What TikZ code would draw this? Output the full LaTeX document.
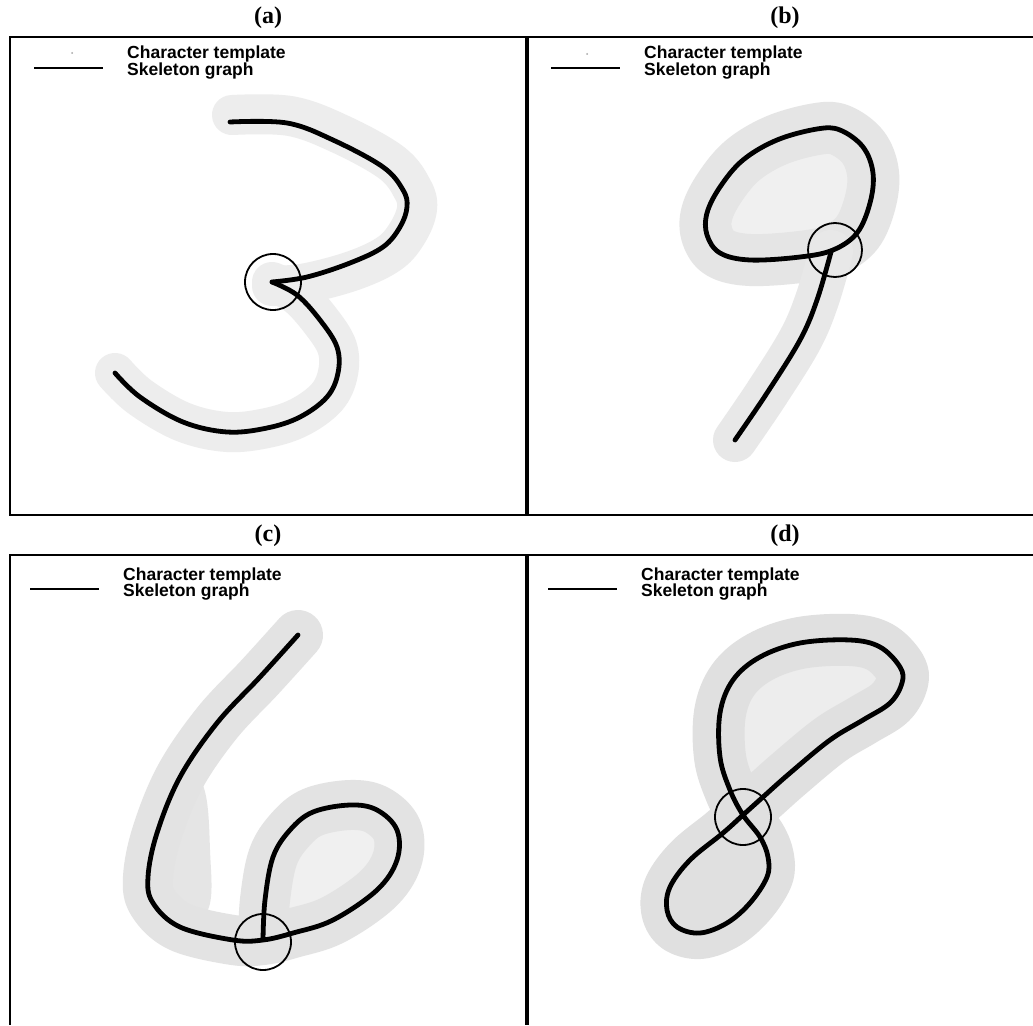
\documentclass[tikz,border=0pt]{standalone}
\usepackage{fontspec}
\setmainfont{Liberation Serif}
\newfontfamily\legfont{Liberation Sans}
\begin{document}
\begin{tikzpicture}[x=1pt,y=-1pt,
  frame/.style={line width=2pt},
  divider/.style={line width=4pt},
  skel/.style={line width=4.8pt, line join=round, line cap=round},
  tmpl/.style={line width=#1, line join=round, line cap=round},
  ring/.style={line width=1.8pt},
  title/.style={font=\bfseries\fontsize{24}{24}\selectfont, inner sep=0pt},
  legtext/.style={font=\legfont\bfseries\fontsize{17.5}{17.5}\selectfont, anchor=base west, inner sep=0pt},
  legline/.style={line width=1.6pt},
  legdot/.style={fill=black!35, draw=none}]
\useasboundingbox (0,0) rectangle (1033,1025);
\fill[white] (0,0) rectangle (1033,1025);

% frames
\draw[frame] (1033,37) -- (10,37) -- (10,515) -- (1033,515);
\draw[divider] (527,37) -- (527,515);
\draw[frame] (1033,555) -- (10,555) -- (10,1025);
\draw[divider] (527,555) -- (527,1025);

% titles
\node[title] (ta) at (268,18) {(a)};
\node[title] (tb) at (785,18) {(b)};
\node[title] (tc) at (268,536) {(c)};
\node[title] (td) at (785,536) {(d)};

% legends
\foreach \nm/\ox/\oy in {a/0/0, b/517/0, c/-4/521, d/514/521}{
  \node[legtext] (ct\nm) at (127+\ox,59+\oy) {Character template};
  \node[legtext] (sg\nm) at (127+\ox,75+\oy) {Skeleton graph};
  \coordinate (ls\nm) at (34+\ox,68+\oy);
  \coordinate (le\nm) at (103+\ox,68+\oy);
  \draw[legline] (ls\nm) -- (le\nm);
}
\fill[legdot] (72,53) circle (1);
\fill[legdot] (587,54) circle (1);

% ===== (a) digit 3 =====
\def\aup{(230,122) (287,123) (333,140) (383,167) (403,190) (407,207) (400,227) (383,247) (350,263) (307,277) (272,282)}
\def\alo{(272,282) (297,295) (320,320) (337,347) (338,373) (327,397) (300,417) (267,428) (227,432) (183,422) (140,397) (115,373)}
\draw[tmpl=40pt, black!7] plot[smooth, tension=0.6] coordinates {(232,115) (290,116) (340,134) (392,163) (413,190) (417,209) (408,232) (390,253) (355,270) (307,283) (272,286)};
\draw[tmpl=40pt, black!7] plot[smooth, tension=0.6] coordinates \alo;
\draw[skel] plot[smooth, tension=0.6] coordinates \aup;
\draw[skel] plot[smooth, tension=0.6] coordinates \alo;
\draw[ring] (273,282) circle (28);

% ===== (b) digit 9 =====
\def\bloop{(833,250) (800,257) (750,260) (720,253) (707,235) (707,213) (720,187) (743,160) (777,140) (817,129) (840,130) (863,147) (873,173) (870,203) (857,233)}
\def\btail{(831,252) (817,300) (800,340) (767,393) (735,440)}
\fill[black!6] plot[smooth cycle, tension=0.6] coordinates \bloop;
\draw[tmpl=52pt, black!10] plot[smooth cycle, tension=0.6] coordinates \bloop;
\draw[tmpl=44pt, black!9] plot[smooth, tension=0.6] coordinates \btail;
\draw[skel] plot[smooth cycle, tension=0.6] coordinates \bloop;
\draw[skel] plot[smooth, tension=0.6] coordinates \btail;
\draw[ring] (835,250) circle (27);

% ===== (c) digit 6 =====
\def\cstroke{(298,635) (260,677) (217,723) (180,777) (157,833) (148,877) (153,903) (180,927) (233,940) (263,940) (293,933) (333,920) (377,890) (397,860) (397,830) (377,810) (350,805) (313,812) (290,830) (273,857) (265,900) (263,940)}
\fill[black!6] plot[smooth cycle, tension=0.6] coordinates {(263,940) (293,933) (333,920) (377,890) (397,860) (397,830) (377,810) (350,805) (313,812) (290,830) (273,857) (265,900)};
\fill[black!10] plot[smooth cycle, tension=0.7] coordinates {(165,790) (200,780) (210,850) (205,915) (160,915) (150,860)};
\draw[tmpl=50pt, black!11] plot[smooth, tension=0.6] coordinates \cstroke;
\draw[skel] plot[smooth, tension=0.6] coordinates \cstroke;
\draw[ring] (263,942) circle (28);

% ===== (d) digit 8 =====
\def\dpath{(743,815) (730,790) (720,757) (720,713) (733,680) (760,657) (800,643) (850,640) (880,647) (900,667) (902,683) (890,703) (863,720) (830,740) (790,773) (763,797) (743,815) (723,833) (690,860) (670,887) (667,910) (677,927) (700,933) (727,923) (750,903) (767,877) (768,857) (760,837)}
\fill[black!12] plot[smooth cycle, tension=0.6] coordinates {(743,815) (723,833) (690,860) (670,887) (667,910) (677,927) (700,933) (727,923) (750,903) (767,877) (768,857) (760,837)};
\fill[black!7] plot[smooth cycle, tension=0.6] coordinates {(743,815) (730,790) (720,757) (720,713) (733,680) (760,657) (800,643) (850,640) (880,647) (900,667) (902,683) (890,703) (863,720) (830,740) (790,773) (763,797)};
\draw[tmpl=52pt, black!12] plot[smooth cycle, tension=0.6] coordinates \dpath;
\draw[skel] plot[smooth cycle, tension=0.6] coordinates \dpath;
\draw[ring] (743,817) circle (28);
\end{tikzpicture}
\end{document}
